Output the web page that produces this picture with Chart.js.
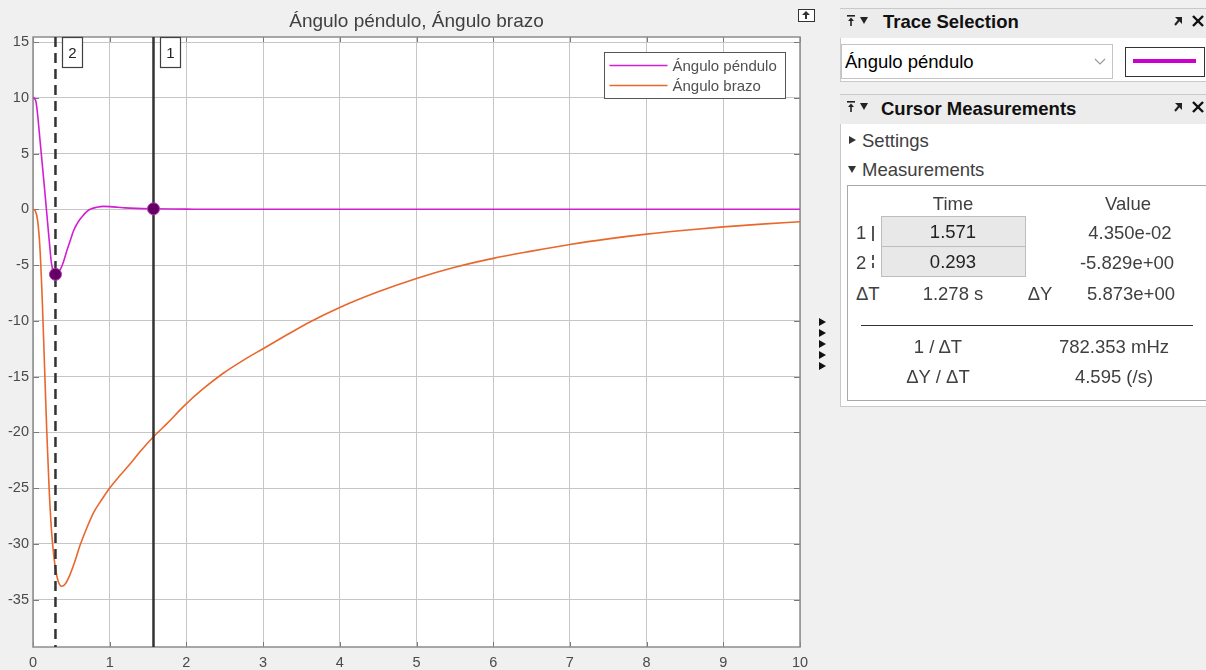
<!DOCTYPE html>
<html>
<head>
<meta charset="utf-8">
<script src="https://cdn.jsdelivr.net/npm/chart.js@4.4.1/dist/chart.umd.min.js"></script>
<style>
  html, body { margin: 0; padding: 0; background: #f0f0f0; width: 1206px; height: 670px; overflow: hidden;
    font-family: "Liberation Sans", Arial, sans-serif; }
  #plot { position: absolute; left: 0; top: 0; width: 1206px; height: 670px; }
  .t { position: absolute; white-space: nowrap; }
  .c { position: absolute; white-space: nowrap; text-align: center; width: 200px; }
  .hdr { position: absolute; left: 840px; width: 366px; height: 29px; background: #ececec; }
  .bold { font-weight: bold; color: #111; font-size: 18.5px; }
  .body { font-size: 18.5px; color: #404040; }
  .tri { position: absolute; width: 0; height: 0; border-top: 4px solid transparent; border-bottom: 4px solid transparent; border-left: 7px solid #111; }
</style>
</head>
<body>
<div id="plot"><canvas id="c" width="1206" height="670"></canvas></div>

<!-- small undock icon above the axes -->
<div style="position:absolute;left:798px;top:9px;width:15px;height:11px;border:1px solid #333;background:#fff;"></div>
<div style="position:absolute;left:802px;top:11px;width:0;height:0;border-left:4px solid transparent;border-right:4px solid transparent;border-bottom:4px solid #333;"></div>
<div style="position:absolute;left:805px;top:15px;width:2px;height:4px;background:#333;"></div>

<!-- collapse arrows between axes and panels -->
<div class="tri" style="left:819px;top:318px;"></div>
<div class="tri" style="left:819px;top:329px;"></div>
<div class="tri" style="left:819px;top:340px;"></div>
<div class="tri" style="left:819px;top:351px;"></div>
<div class="tri" style="left:819px;top:362px;"></div>

<!-- Trace Selection panel -->
<div style="position:absolute;left:840px;top:8px;width:370px;height:72px;background:#fff;border:1px solid #c9c9c9;"></div>
<div class="hdr" style="top:9px;"></div>
<svg style="position:absolute;left:846px;top:14px;" width="24" height="14">
  <rect x="1" y="1" width="8" height="1.6" fill="#222"/>
  <polygon points="2,7 5,3.5 8,7" fill="#222"/><rect x="4.2" y="6" width="1.6" height="6" fill="#222"/>
  <polygon points="14,3 22,3 18,10" fill="#222"/>
</svg>
<div class="t bold" style="left:883px;top:11px;line-height:22px;">Trace Selection</div>
<svg style="position:absolute;left:1172px;top:14px;" width="34" height="14">
  <polygon points="3,3 10,3 10,10" fill="#222"/><line x1="3" y1="11" x2="8" y2="5" stroke="#222" stroke-width="2"/>
  <line x1="21" y1="2" x2="31" y2="12" stroke="#111" stroke-width="2.4"/><line x1="31" y1="2" x2="21" y2="12" stroke="#111" stroke-width="2.4"/>
</svg>
<div style="position:absolute;left:841px;top:44px;width:270px;height:33px;background:#fff;border:1px solid #c4c4c4;"></div>
<div class="t" style="left:845px;top:50px;line-height:24px;font-size:18.5px;color:#000;">Ángulo péndulo</div>
<svg style="position:absolute;left:1094px;top:57px;" width="14" height="10"><polyline points="1,2 6,7 11,2" fill="none" stroke="#999" stroke-width="1.2"/></svg>
<div style="position:absolute;left:1125px;top:47px;width:78px;height:28px;background:#fff;border:1px solid #333;"></div>
<div style="position:absolute;left:1133px;top:59px;width:63px;height:4px;background:#cc00cc;"></div>

<!-- Cursor Measurements panel -->
<div style="position:absolute;left:840px;top:94px;width:370px;height:311px;background:#fff;border:1px solid #c9c9c9;"></div>
<div class="hdr" style="top:95px;"></div>
<svg style="position:absolute;left:846px;top:100px;" width="24" height="14">
  <rect x="1" y="1" width="8" height="1.6" fill="#222"/>
  <polygon points="2,7 5,3.5 8,7" fill="#222"/><rect x="4.2" y="6" width="1.6" height="6" fill="#222"/>
  <polygon points="14,3 22,3 18,10" fill="#222"/>
</svg>
<div class="t bold" style="left:881px;top:98px;line-height:22px;">Cursor Measurements</div>
<svg style="position:absolute;left:1172px;top:100px;" width="34" height="14">
  <polygon points="3,3 10,3 10,10" fill="#222"/><line x1="3" y1="11" x2="8" y2="5" stroke="#222" stroke-width="2"/>
  <line x1="21" y1="2" x2="31" y2="12" stroke="#111" stroke-width="2.4"/><line x1="31" y1="2" x2="21" y2="12" stroke="#111" stroke-width="2.4"/>
</svg>
<div class="tri" style="left:849px;top:136px;border-left-color:#333;"></div>
<div class="t body" style="left:862px;top:130px;line-height:22px;">Settings</div>
<div style="position:absolute;left:848px;top:166px;width:0;height:0;border-left:4px solid transparent;border-right:4px solid transparent;border-top:7px solid #333;"></div>
<div class="t body" style="left:862px;top:159px;line-height:22px;">Measurements</div>

<div style="position:absolute;left:847px;top:185px;width:370px;height:214px;border:1px solid #a8a8a8;background:#fff;"></div>
<div class="c body" style="left:853px;top:193px;line-height:22px;">Time</div>
<div class="c body" style="left:1028px;top:193px;line-height:22px;">Value</div>

<div style="position:absolute;left:881px;top:216px;width:143px;height:29px;background:#e8e8e8;border:1px solid #bdbdbd;"></div>
<div style="position:absolute;left:881px;top:246px;width:143px;height:29px;background:#e8e8e8;border:1px solid #bdbdbd;"></div>
<div class="t body" style="left:856px;top:222px;line-height:22px;">1</div>
<div style="position:absolute;left:872px;top:226px;width:2px;height:15px;background:#555;"></div>
<div class="t body" style="left:856px;top:252px;line-height:22px;">2</div>
<div style="position:absolute;left:872px;top:255px;width:2px;height:5px;background:#555;"></div>
<div style="position:absolute;left:872px;top:263px;width:2px;height:5px;background:#555;"></div>
<div id="t1" class="c body" style="left:853px;top:221px;line-height:22px;color:#222;"></div>
<div id="t2" class="c body" style="left:853px;top:251px;line-height:22px;color:#222;"></div>
<div id="v1" class="c body" style="left:1030px;top:222px;line-height:22px;"></div>
<div id="v2" class="c body" style="left:1027px;top:252px;line-height:22px;"></div>

<div class="t body" style="left:856px;top:283px;line-height:22px;">ΔT</div>
<div id="dt" class="c body" style="left:853px;top:283px;line-height:22px;"></div>
<div class="c body" style="left:940px;top:283px;line-height:22px;">ΔY</div>
<div id="dy" class="c body" style="left:1031px;top:283px;line-height:22px;"></div>

<div style="position:absolute;left:861px;top:325px;width:332px;height:1px;background:#333;"></div>
<div class="c body" style="left:838px;top:336px;line-height:22px;">1 / ΔT</div>
<div id="inv" class="c body" style="left:1014px;top:336px;line-height:22px;"></div>
<div class="c body" style="left:838px;top:366px;line-height:22px;">ΔY / ΔT</div>
<div id="slope" class="c body" style="left:1014px;top:366px;line-height:22px;"></div>

<script>
// Simulation output: pendulum angle and arm angle (degrees) against time (s)
const tiempoPendulo = [0, 0.02, 0.04, 0.06, 0.09, 0.12, 0.15, 0.18, 0.21, 0.24, 0.265, 0.293, 0.32, 0.36,
  0.40, 0.44, 0.49, 0.53, 0.57, 0.61, 0.66, 0.70, 0.76, 0.83, 0.92, 1.0, 1.1, 1.2, 1.35, 1.571, 1.8, 2.1,
  2.5, 3, 4, 5, 6, 7, 8, 9, 10];
const anguloPendulo = [10, 9.95, 9.6, 8.5, 6.3, 4.1, 1.9, -0.4, -2.7, -4.8, -5.6, -5.829, -5.72, -5.35,
  -4.65, -3.75, -2.7, -1.9, -1.35, -0.92, -0.5, -0.2, 0.05, 0.18, 0.26, 0.24, 0.19, 0.13, 0.08, 0.0435, 0.02, 0.01,
  0, 0, 0, 0, 0, 0, 0, 0, 0];

const tiempoBrazo = [0, 0.03, 0.06, 0.09, 0.12, 0.15, 0.18, 0.21, 0.24, 0.27, 0.30, 0.33, 0.374, 0.42,
  0.48, 0.55, 0.61, 0.70, 0.79, 0.90, 1.0, 1.13, 1.27, 1.4, 1.571, 1.75, 1.96, 2.2, 2.48, 2.75, 3.0, 3.3,
  3.61, 4.0, 4.5, 5.0, 5.5, 6.0, 6.5, 7.0, 7.5, 8.0, 8.5, 9.0, 9.5, 10];
const anguloBrazo = [0, -0.15, -1.0, -3.4, -8.0, -14.0, -20.0, -25.0, -28.7, -31.0, -32.5, -33.4, -33.8, -33.6,
  -32.8, -31.5, -30.2, -28.6, -27.2, -26.0, -25.0, -23.9, -22.8, -21.7, -20.4, -19.2, -17.7, -16.2, -14.7, -13.5, -12.5, -11.3,
  -10.1, -8.8, -7.4, -6.2, -5.2, -4.4, -3.75, -3.15, -2.65, -2.23, -1.88, -1.58, -1.33, -1.12];

// Cursors: 1 (solid) and 2 (dashed), read on the selected trace
const cursorTiempos = [1.571, 0.293];
const cursorValores = [0.0435, -5.829];
const cursorTextoValor = ['4.350e-02', '-5.829e+00'];

const xTicks = [0, 1, 2, 3, 4, 5, 6, 7, 8, 9, 10];
const yTicks = [-35, -30, -25, -20, -15, -10, -5, 0, 5, 10, 15];

const colorPendulo = '#d21fd2';
const colorBrazo = '#e9672c';
const fuente = '"Liberation Sans", Arial, sans-serif';

// measurement table text
document.getElementById('t1').textContent = cursorTiempos[0].toFixed(3);
document.getElementById('t2').textContent = cursorTiempos[1].toFixed(3);
document.getElementById('v1').textContent = cursorTextoValor[0];
document.getElementById('v2').textContent = cursorTextoValor[1];
document.getElementById('dt').textContent = '1.278 s';
document.getElementById('dy').textContent = '5.873e+00';
document.getElementById('inv').textContent = '782.353 mHz';
document.getElementById('slope').textContent = '4.595 (/s)';

const pts = (xs, ys) => xs.map((x, i) => ({ x: x, y: ys[i] }));

// white plot background, frame and inward tick marks
const marco = {
  id: 'marco',
  beforeDraw(chart) {
    const { ctx, chartArea: a } = chart;
    ctx.save();
    ctx.fillStyle = '#ffffff';
    ctx.fillRect(a.left, a.top, a.right - a.left, a.bottom - a.top);
    ctx.restore();
  },
  beforeDatasetsDraw(chart) {
    const { ctx, chartArea: a, scales } = chart;
    ctx.save();
    ctx.strokeStyle = '#7a7a7a';
    ctx.lineWidth = 1;
    ctx.beginPath();
    xTicks.forEach(v => {
      const px = Math.round(scales.x.getPixelForValue(v)) + 0.5;
      ctx.moveTo(px, a.bottom); ctx.lineTo(px, a.bottom - 5);
      ctx.moveTo(px, a.top); ctx.lineTo(px, a.top + 5);
    });
    yTicks.forEach(v => {
      const py = Math.round(scales.y.getPixelForValue(v)) + 0.5;
      ctx.moveTo(a.left, py); ctx.lineTo(a.left + 6, py);
      ctx.moveTo(a.right, py); ctx.lineTo(a.right - 6, py);
    });
    ctx.stroke();
    ctx.strokeStyle = '#8c8c8c';
    ctx.lineWidth = 1.5;
    ctx.strokeRect(a.left, a.top, a.right - a.left, a.bottom - a.top);
    ctx.restore();
  }
};

// title centred over the plot area
const titulo = {
  id: 'titulo',
  afterDraw(chart) {
    const { ctx, chartArea: a } = chart;
    ctx.save();
    ctx.font = '19px ' + fuente;
    ctx.fillStyle = '#404040';
    ctx.textAlign = 'center';
    ctx.textBaseline = 'middle';
    ctx.fillText('Ángulo péndulo, Ángulo brazo', (a.left + a.right) / 2, 22);
    ctx.restore();
  }
};

// vertical measurement cursors with numbered tags
const cursores = {
  id: 'cursores',
  afterDatasetDraw(chart, args) {
    if (args.index !== 1) return;
    const { ctx, chartArea: a, scales } = chart;
    ctx.save();
    cursorTiempos.forEach((t, i) => {
      const px = scales.x.getPixelForValue(t);
      ctx.strokeStyle = '#333333';
      ctx.lineWidth = 2.5;
      ctx.setLineDash(i === 1 ? [10, 6] : []);
      ctx.beginPath();
      ctx.moveTo(px, a.top);
      ctx.lineTo(px, a.bottom);
      ctx.stroke();
      ctx.setLineDash([]);
      const bx = Math.round(px + 7) + 0.5, by = a.top + 0.5;
      ctx.fillStyle = '#ffffff';
      ctx.fillRect(bx, by, 20, 30);
      ctx.lineWidth = 1.2;
      ctx.strokeStyle = '#404040';
      ctx.strokeRect(bx, by, 20, 30);
      ctx.fillStyle = '#222222';
      ctx.font = '15px ' + fuente;
      ctx.textAlign = 'center';
      ctx.textBaseline = 'middle';
      ctx.fillText(String(i + 1), bx + 10, by + 16);
    });
    ctx.restore();
  }
};

// boxed legend in the upper right of the plot
const leyenda = {
  id: 'leyenda',
  afterDraw(chart) {
    const { ctx, chartArea: a } = chart;
    const items = chart.data.datasets.filter(d => d.label);
    const w = 181, h = 46;
    const x0 = a.right - 15 - w + 0.5, y0 = a.top + 15 + 0.5;
    ctx.save();
    ctx.fillStyle = '#ffffff';
    ctx.fillRect(x0, y0, w, h);
    ctx.strokeStyle = '#555555';
    ctx.lineWidth = 1;
    ctx.strokeRect(x0, y0, w, h);
    ctx.font = '15px ' + fuente;
    ctx.textBaseline = 'middle';
    items.forEach((d, i) => {
      const y = y0 + 13 + i * 20;
      ctx.strokeStyle = d.borderColor;
      ctx.lineWidth = 1.5;
      ctx.beginPath();
      ctx.moveTo(x0 + 5, y);
      ctx.lineTo(x0 + 63, y);
      ctx.stroke();
      ctx.fillStyle = '#505050';
      ctx.fillText(d.label, x0 + 68, y + 1);
    });
    ctx.restore();
  }
};

new Chart(document.getElementById('c'), {
  type: 'line',
  data: {
    datasets: [
      {
        type: 'scatter',
        data: pts(cursorTiempos, cursorValores),
        pointRadius: 6,
        pointBackgroundColor: '#640064',
        pointBorderColor: '#b23cb2',
        pointBorderWidth: 1,
        showLine: false,
        order: 0
      },
      {
        label: 'Ángulo péndulo',
        data: pts(tiempoPendulo, anguloPendulo),
        borderColor: colorPendulo,
        borderWidth: 1.6,
        pointRadius: 0,
        cubicInterpolationMode: 'monotone',
        fill: false,
        order: 1
      },
      {
        label: 'Ángulo brazo',
        data: pts(tiempoBrazo, anguloBrazo),
        borderColor: colorBrazo,
        borderWidth: 1.6,
        pointRadius: 0,
        cubicInterpolationMode: 'monotone',
        fill: false,
        order: 2
      }
    ]
  },
  options: {
    responsive: false,
    animation: false,
    events: [],
    layout: { padding: { top: 37, left: 0, right: 406, bottom: 0 } },
    plugins: { legend: { display: false }, tooltip: { enabled: false }, title: { display: false } },
    scales: {
      x: {
        type: 'linear',
        min: 0, max: 10,
        afterBuildTicks: s => { s.ticks = xTicks.map(v => ({ value: v })); },
        afterFit: s => { s.height = 23; },
        grid: { color: '#c6c6c6', lineWidth: 1, drawTicks: false },
        border: { display: false },
        ticks: { color: '#4a4a4a', font: { size: 14.5, family: fuente }, padding: 7, maxRotation: 0 }
      },
      y: {
        type: 'linear',
        min: -39.25, max: 15.45,
        afterBuildTicks: s => { s.ticks = yTicks.map(v => ({ value: v })); },
        afterFit: s => { s.width = 33; },
        grid: { color: '#c6c6c6', lineWidth: 1, drawTicks: false },
        border: { display: false },
        ticks: { color: '#4a4a4a', font: { size: 14.5, family: fuente }, padding: 4 }
      }
    }
  },
  plugins: [marco, titulo, cursores, leyenda]
});
</script>
</body>
</html>
